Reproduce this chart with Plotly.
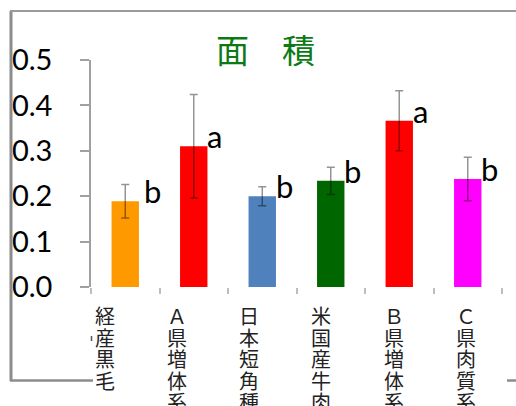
import plotly.graph_objects as go

# Area measurements by cattle group
categories = ["経産黒毛", "Ａ県増体系", "日本短角種", "米国産牛肉", "Ｂ県増体系", "Ｃ県肉質系"]
means = [0.189, 0.310, 0.200, 0.234, 0.366, 0.238]
errors = [0.037, 0.114, 0.021, 0.030, 0.066, 0.048]
groups = ["b", "a", "b", "b", "a", "b"]
y_ticks = [0.0, 0.1, 0.2, 0.3, 0.4, 0.5]

colors = ["#FF9900", "#FF0000", "#4F81BD", "#006600", "#FF0000", "#FF00FF"]

# pixel geometry of the canvas
W, H = 516, 406
L, R, T, B = 91, 14, 60, 119
PW, PH = W - L - R, H - T - B


def px_x(p):
    return (p - L) / PW


def px_y(p):
    return (H - B - p) / PH


xs = list(range(len(categories)))
bar_w = 0.4

fig = go.Figure()
fig.add_trace(go.Bar(
    x=xs, y=means, width=bar_w,
    marker=dict(color=colors, line=dict(width=0)),
    error_y=dict(type="data", array=errors, visible=True,
                 color="rgba(0,0,0,0.42)", thickness=1.5, width=4),
    showlegend=False,
))

annotations = []
# significance letters beside each bar
letter_shift = [5, 0, 0, 0, 0, 0]
for i, (m, g) in enumerate(zip(means, groups)):
    annotations.append(dict(
        x=i + bar_w / 2, y=m, xref="x", yref="y", text=g, showarrow=False,
        xanchor="left", yanchor="bottom", xshift=letter_shift[i] - 2, yshift=-11,
        font=dict(family="Lato", size=31, color="#000000"),
    ))

# vertical category labels, one character per line
label_shift = [-20, -16.5, -13, -9.5, -5, -1.5]
for i, name in enumerate(categories):
    for k, ch in enumerate(name):
        annotations.append(dict(
            x=i, y=0, xref="x", yref="paper", text=ch, showarrow=False,
            xanchor="center", yanchor="top", xshift=label_shift[i],
            yshift=-(12 + k * 21.6),
            font=dict(family="Noto Sans CJK JP", size=20, color="#222222"),
        ))

# chart title
annotations.append(dict(
    x=px_x(265.5), y=px_y(49), xref="paper", yref="paper", text="面　積",
    showarrow=False, xanchor="center", yanchor="middle",
    font=dict(family="Noto Sans CJK JP", size=33, color="#0B7A14"),
))

# outer frame lines
frame = "#9a9a9a"
shapes = [
    dict(type="line", xref="paper", yref="paper", x0=px_x(11), x1=px_x(11),
         y0=px_y(11), y1=px_y(381), line=dict(color="#8c8c8c", width=3)),
    dict(type="line", xref="paper", yref="paper", x0=px_x(10), x1=px_x(520),
         y0=px_y(11), y1=px_y(11), line=dict(color=frame, width=2)),
    dict(type="line", xref="paper", yref="paper", x0=px_x(10), x1=px_x(93),
         y0=px_y(380.5), y1=px_y(380.5), line=dict(color="#8c8c8c", width=2.5)),
    dict(type="line", xref="paper", yref="paper", x0=px_x(507), x1=px_x(520),
         y0=px_y(380.5), y1=px_y(380.5), line=dict(color="#8c8c8c", width=2.5)),
    dict(type="line", xref="paper", yref="paper", x0=px_x(91.5), x1=px_x(91.5),
         y0=px_y(336), y1=px_y(341), line=dict(color="#555555", width=1.5)),
]

fig.update_layout(
    width=W, height=H,
    margin=dict(l=L, r=R, t=T, b=B, pad=0),
    paper_bgcolor="white", plot_bgcolor="white",
    annotations=annotations, shapes=shapes,
    xaxis=dict(
        range=[-0.5, len(categories) - 0.5],
        tickmode="array",
        tickvals=[i - 0.5 for i in range(len(categories) + 1)],
        ticktext=[""] * (len(categories) + 1),
        ticks="outside", ticklen=6, tickcolor="#bdbdbd", tickwidth=1.5,
        showgrid=False, zeroline=False, showline=False, fixedrange=True,
    ),
    yaxis=dict(
        range=[0, 0.5], tickmode="array", tickvals=y_ticks,
        ticktext=[f"{v:.1f}" for v in y_ticks],
        ticks="outside", ticklen=9, tickcolor="#a0a0a0", tickwidth=1.5,
        showline=True, linecolor="#a0a0a0", linewidth=1.5,
        showgrid=False, zeroline=False, ticklabelstandoff=22,
        tickfont=dict(family="Lato", size=29, color="#000000"),
    ),
)

fig.write_html("out.html")
